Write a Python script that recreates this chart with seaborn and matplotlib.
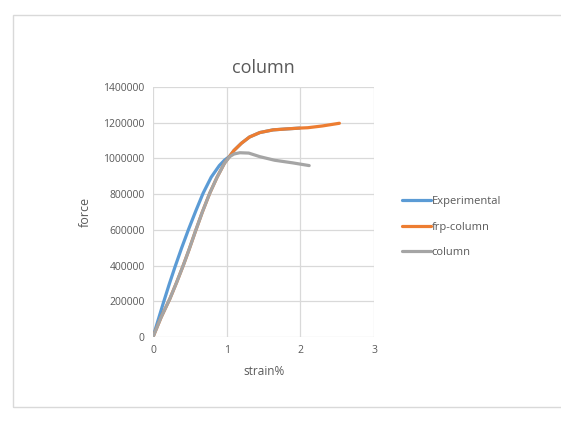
import numpy as np
import pandas as pd
import seaborn as sns
import matplotlib.pyplot as plt
from matplotlib.patches import Rectangle

# values
exp_strain = [0, 0.07, 0.14, 0.22, 0.30, 0.39, 0.48, 0.58, 0.68, 0.79, 0.90, 0.97, 1.04, 1.10, 1.20, 1.31, 1.45, 1.63, 1.80, 1.99]
exp_force = [0, 95000, 190000, 295000, 394000, 500000, 600000, 705000, 805000, 895000, 960000, 990000, 1012000, 1045000, 1085000, 1120000, 1145000, 1160000, 1165000, 1170000]

frp_strain = [0, 0.11, 0.23, 0.32, 0.41, 0.49, 0.57, 0.67, 0.77, 0.87, 0.97, 1.04, 1.10, 1.20, 1.31, 1.45, 1.63, 1.80, 1.99, 2.10, 2.30, 2.53]
frp_force = [0, 110000, 215000, 305000, 400000, 490000, 585000, 700000, 805000, 895000, 973000, 1012000, 1045000, 1085000, 1120000, 1145000, 1160000, 1165000, 1170000, 1172000, 1182000, 1197000]

col_strain = [0, 0.11, 0.23, 0.32, 0.41, 0.49, 0.57, 0.67, 0.77, 0.87, 0.97, 1.04, 1.10, 1.18, 1.30, 1.45, 1.65, 1.90, 2.12]
col_force = [0, 110000, 215000, 305000, 400000, 490000, 585000, 700000, 805000, 895000, 973000, 1010000, 1025000, 1032000, 1030000, 1010000, 990000, 975000, 960000]

series_names = ['Experimental', 'frp-column', 'column']
colors = ['#5B9BD5', '#ED7D31', '#A5A5A5']

frames = []
for name, xs, ys in zip(series_names, [exp_strain, frp_strain, col_strain],
                        [exp_force, frp_force, col_force]):
    frames.append(pd.DataFrame({'strain': xs, 'force': ys, 'series': name}))
df = pd.concat(frames, ignore_index=True)

sns.set_style('white')
plt.rcParams['font.family'] = ['Open Sans', 'DejaVu Sans']

fig = plt.figure(figsize=(5.61, 4.21), dpi=100)
ax = fig.add_axes([0.2727, 0.1995, 0.3940, 0.5938])

sns.lineplot(data=df, x='strain', y='force', hue='series', hue_order=series_names,
             palette=colors, sort=False, estimator=None, linewidth=2.3, ax=ax)

ax.set_xlim(0, 3)
ax.set_ylim(0, 1400000)
ax.set_xticks([0, 1, 2, 3])
ax.set_yticks(np.arange(0, 1400001, 200000))
ax.set_yticklabels([str(v) for v in range(0, 1400001, 200000)])
ax.grid(True, color='#D9D9D9', linewidth=0.9)
ax.set_axisbelow(True)
for s in ax.spines.values():
    s.set_visible(False)
ax.tick_params(axis='both', labelsize=7.5, labelcolor='#595959', length=0, pad=6)

ax.set_title('column', fontsize=13, color='#595959', pad=10)
ax.set_xlabel('strain%', fontsize=8.5, color='#595959', labelpad=6)
ax.set_ylabel('force', fontsize=9, color='#595959', labelpad=8)

handles, labels = ax.get_legend_handles_labels()
leg = ax.legend(handles, labels, loc='center left', bbox_to_anchor=(1.08, 0.44),
                frameon=False, fontsize=8, handlelength=2.6, handletextpad=0.1,
                labelspacing=1.3, labelcolor='#595959')

fig.patches.append(Rectangle((0.023, 0.033), 0.98, 0.932, transform=fig.transFigure,
                             fill=False, edgecolor='#D9D9D9', linewidth=1))

fig.savefig('out.png', dpi=100, facecolor='white')
